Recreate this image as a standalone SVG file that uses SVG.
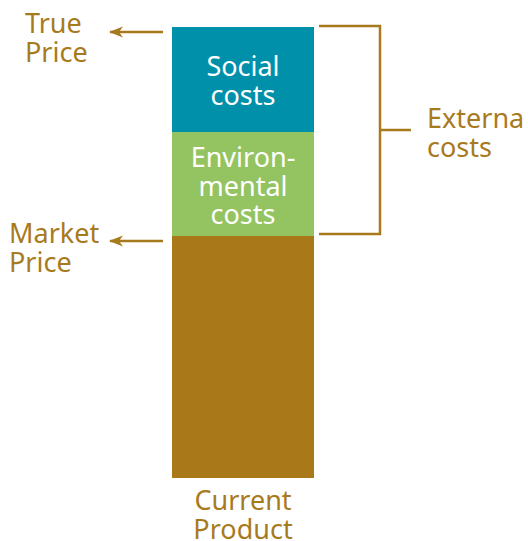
<svg xmlns="http://www.w3.org/2000/svg" width="528" height="541" viewBox="0 0 528 541">
  <style>
    .lbl { font-family: "Noto Sans", "Open Sans", sans-serif; font-size: 27px; }
    .gold { fill: #a87a1e; }
    .white { fill: #ffffff; }
    .line { stroke: #a87a1e; stroke-width: 2.5; fill: none; }
  </style>
  <defs>
    <marker id="head" markerWidth="14" markerHeight="12" refX="13" refY="6" orient="auto" markerUnits="userSpaceOnUse">
      <path d="M14,6 L0,0.5 L4,6 L0,11.5 Z" fill="#a87a1e"/>
    </marker>
  </defs>
  <rect width="528" height="541" fill="#ffffff"/>

  <g id="current-product">
    <rect x="172" y="236" width="142" height="242" fill="#a97819"/>
    <text class="lbl gold" x="243" y="510" text-anchor="middle">Current</text>
    <text class="lbl gold" x="243" y="539" text-anchor="middle">Product</text>
  </g>

  <g id="environmental-costs">
    <rect x="172" y="132" width="142" height="104" fill="#93c461"/>
    <text class="lbl white" x="243" y="167" text-anchor="middle">Environ-</text>
    <text class="lbl white" x="243" y="196" text-anchor="middle">mental</text>
    <text class="lbl white" x="243" y="224" text-anchor="middle">costs</text>
  </g>

  <g id="social-costs">
    <rect x="172" y="27" width="142" height="105" fill="#0090a9"/>
    <text class="lbl white" x="243" y="76" text-anchor="middle">Social</text>
    <text class="lbl white" x="243" y="105" text-anchor="middle">costs</text>
  </g>

  <g id="true-price">
    <text class="lbl gold" x="25" y="33">True</text>
    <text class="lbl gold" x="25" y="62">Price</text>
  </g>

  <g id="market-price">
    <text class="lbl gold" x="9" y="243">Market</text>
    <text class="lbl gold" x="9" y="272">Price</text>
  </g>

  <g id="external-costs">
    <text class="lbl gold" x="427" y="128">Externa</text>
    <text class="lbl gold" x="427" y="157">costs</text>
  </g>

  <g id="connectors">
    <line class="line" x1="163" y1="32" x2="110" y2="32" marker-end="url(#head)"/>
    <line class="line" x1="163" y1="241" x2="110" y2="241" marker-end="url(#head)"/>
    <path class="line" d="M319,26 H380 V234 H319 M380,130 H411"/>
  </g>
</svg>
